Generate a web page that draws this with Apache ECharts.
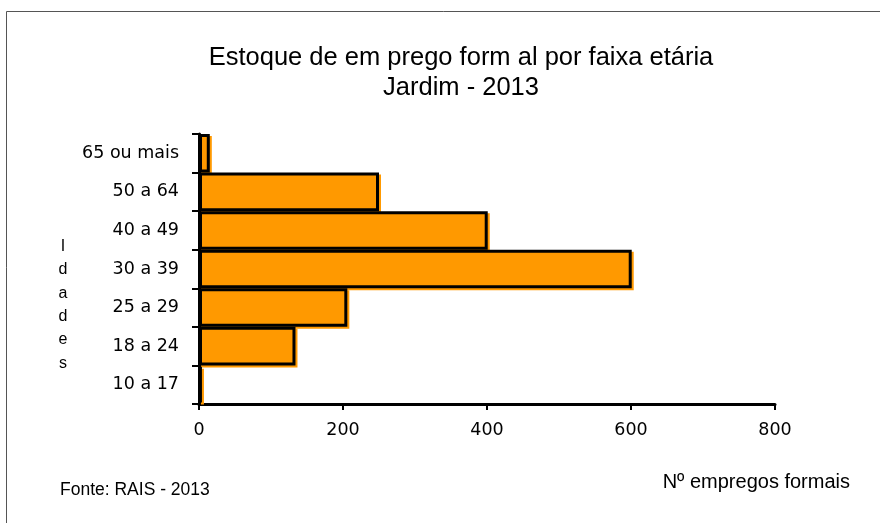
<!DOCTYPE html>
<html><head><meta charset="utf-8">
<script src="https://cdn.jsdelivr.net/npm/echarts@6/dist/echarts.min.js"></script>
<style>html,body{margin:0;padding:0;background:#fff}#c{width:880px;height:523px}</style>
</head><body><div id="c"></div>
<script>
// categories listed top to bottom (axis is inverted)
const categories = ['65 ou mais','50 a 64','40 a 49','30 a 39','25 a 29','18 a 24','10 a 17'];
const values = [15, 250, 401, 601, 206, 134, 4];
const xTicks = [0, 200, 400, 600, 800];
const titleLine1 = 'Estoque de em prego form al por faixa etária';
const titleLine2 = 'Jardim - 2013';
const yName = 'Idades';
const xName = 'Nº empregos formais';
const source = 'Fonte: RAIS - 2013';

const chart = echarts.init(document.getElementById('c'));
const font = 'Liberation Sans, Arial, sans-serif';
const wide = 'DejaVu Sans, sans-serif';
chart.setOption({
  animation: false,
  backgroundColor: '#fff',
  grid: {left: 199, right: 105, top: 134, bottom: 119},
  xAxis: {
    type: 'value', min: xTicks[0], max: xTicks[xTicks.length-1], interval: 200,
    axisLine: {show: true, lineStyle: {color: '#000', width: 3}},
    axisTick: {show: true, length: 6, lineStyle: {color: '#000', width: 2}},
    axisLabel: {color: '#000', fontSize: 17.5, fontFamily: wide, margin: 17},
    splitLine: {show: false}
  },
  yAxis: {
    type: 'category', data: categories, inverse: true,
    axisLine: {show: true, lineStyle: {color: '#000', width: 3}},
    axisTick: {show: true, length: 7, lineStyle: {color: '#000', width: 2}},
    axisLabel: {color: '#000', fontSize: 17.5, fontFamily: wide, margin: 20}
  },
  series: [{
    type: 'bar', data: values, barCategoryGap: 0,
    itemStyle: {color: '#FF9900', borderColor: '#000', borderWidth: 3,
      shadowColor: '#FF9900', shadowOffsetX: 2, shadowOffsetY: 2, shadowBlur: 0}
  }],
  graphic: [
    {type: 'rect', shape: {x: 6.5, y: 11.5, width: 1000, height: 1000}, style: {fill: 'none', stroke: '#555', lineWidth: 1}, z: -1},
    {type: 'text', x: 461, y: 43, style: {text: titleLine1 + '\n' + titleLine2, align: 'center', fontSize: 25.5, lineHeight: 30, fontFamily: font, fill: '#000'}},
    {type: 'text', x: 63, y: 235, style: {text: yName.split('').join('\n'), align: 'center', fontSize: 16, lineHeight: 23.3, fontFamily: font, fill: '#000'}},
    {type: 'text', x: 850, y: 482, style: {text: xName, align: 'right', verticalAlign: 'middle', fontSize: 20, fontFamily: font, fill: '#000'}},
    {type: 'text', x: 60, y: 490, style: {text: source, align: 'left', verticalAlign: 'middle', fontSize: 17.5, fontFamily: font, fill: '#000'}}
  ]
});
</script></body></html>
